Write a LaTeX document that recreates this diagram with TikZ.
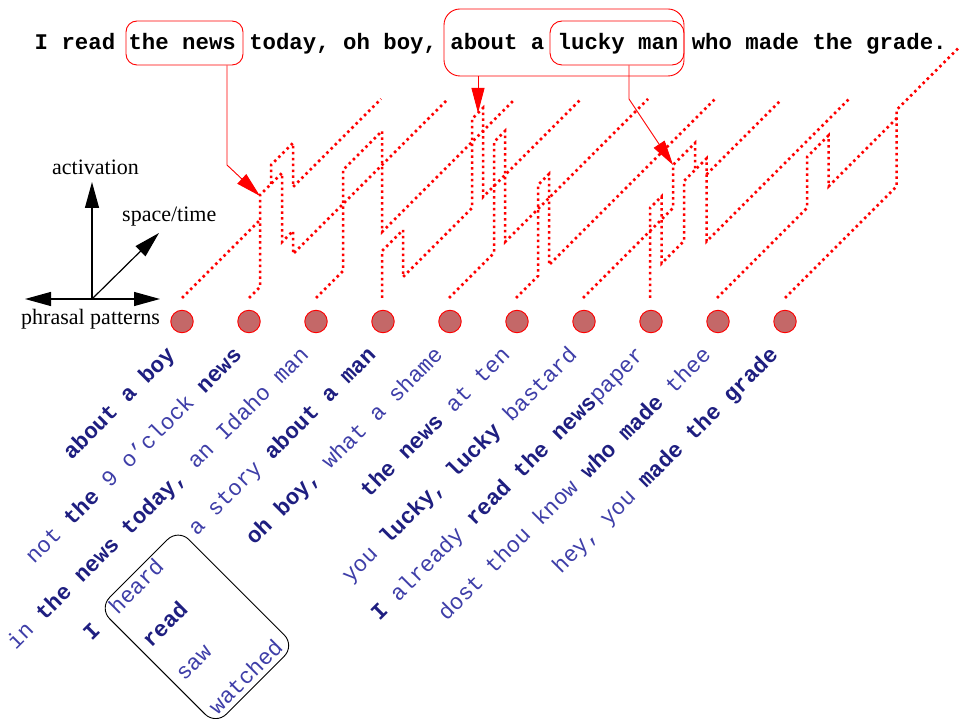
\documentclass[tikz,border=0pt]{standalone}
\usepackage{fontspec}
\setmainfont{Liberation Serif}
\newfontfamily\mono{Liberation Mono}
\usetikzlibrary{arrows.meta}
\definecolor{phr}{RGB}{62,62,168}
\definecolor{phrb}{RGB}{30,30,128}
\definecolor{circfill}{RGB}{196,104,104}
\newcommand\sz{\fontsize{22.35}{26}\selectfont}
\newcommand\bd[1]{{\bfseries\color{phrb}#1}}
\begin{document}
\begin{tikzpicture}[x=1pt,y=-1pt,
  trace/.style={red, line width=2.5pt, dash pattern=on 2.5pt off 3.4pt},
  conn/.style={red, line width=0.9pt, -{Triangle[length=25pt,width=13pt]}},
  wbox/.style={draw=red, line width=0.9pt, inner sep=0pt},
  axis/.style={black, line width=1.2pt},
  lbl/.style={font=\fontsize{22}{26}\selectfont, inner sep=0pt, anchor=base west},
  pat/.style={circle, draw=red, fill=circfill, minimum size=22.5pt, inner sep=0pt, line width=0.9pt},
  phrase/.style={anchor=base east, inner sep=0pt, text=phr, font=\mono\sz},
  stackw/.style={anchor=base west, inner sep=0pt, text=phr, font=\mono\sz}]
\useasboundingbox (0,0) rectangle (959,719);

% sentence and its boxes
\node[anchor=base west, inner sep=0pt, font=\mono\bfseries\sz] (sent) at (34.5,50)
  {I read the news today, oh boy, about a lucky man who made the grade.};
\node[wbox, rounded corners=11pt, minimum width=117pt, minimum height=44pt] (newsbox) at (184.5,43) {};
\node[wbox, rounded corners=16pt, minimum width=240pt, minimum height=67pt] (bigbox) at (564,42.5) {};
\node[wbox, rounded corners=12pt, minimum width=134pt, minimum height=44pt] (luckybox) at (617,43) {};

% axes
\coordinate (O) at (92,299);
\coordinate (actTip) at (92,182);
\coordinate (stTip) at (159,233);
\coordinate (ppL) at (25,299);
\coordinate (ppR) at (160,299);
\draw[axis, -{Triangle[length=26pt,width=14pt]}] (O) -- (actTip);
\draw[axis, -{Triangle[length=26pt,width=14pt]}] (O) -- (stTip);
\draw[axis, {Triangle[length=26pt,width=14pt]}-{Triangle[length=26pt,width=14pt]}] (ppL) -- (ppR);
\node[lbl] (lact) at (52,175) {activation};
\node[lbl] (lst) at (122,222) {space/time};
\node[lbl] (lpp) at (21,325) {phrasal patterns};

% pattern circles
\foreach \i in {0,...,9} \node[pat] (p\i) at ({182+67*\i},321.5) {};

% activation traces
\draw[trace] (182,298) -- (260,220);
\draw[trace] (271,184) -- (271,165) -- (293,143) -- (293,187) -- (381,99);
\draw[trace] (249,298) -- (260,287) -- (260,195) -- (282,173) -- (282,242) -- (293,231) -- (293,254) -- (448,99);
\draw[trace] (316,298) -- (343,271) -- (343,170) -- (382,131) -- (382,232) -- (515,99);
\draw[trace] (382,298) -- (382,251) -- (403,230) -- (403,277) -- (472,208) -- (472,119) -- (483,108) -- (483,197) -- (581,99);
\draw[trace] (449,298) -- (494,253) -- (494,142) -- (505,131) -- (505,242) -- (648,99);
\draw[trace] (516,298) -- (538,276) -- (538,185) -- (549,174) -- (549,265) -- (715,99);
\draw[trace] (583,298) -- (673,208) -- (673,165) -- (695,143) -- (695,170);
\draw[trace] (706.5,174.5) -- (781,100);
\draw[trace] (650,298) -- (650,208) -- (661.5,196.5) -- (661.5,263.5) -- (684,241) -- (684,181) -- (706.5,158.5) -- (706.5,241.5) -- (849,99);
\draw[trace] (717,298) -- (807,208) -- (807,157) -- (828.5,135.5) -- (828.5,186.5) -- (897,118);
\draw[trace] (785,298) -- (896.5,186.5) -- (896.5,110) -- (970,36.5);

% connectors from the sentence
\coordinate (bendA) at (227,165);
\coordinate (tipA) at (260,196);
\coordinate (tipB) at (478,113);
\coordinate (bendC) at (629,99);
\coordinate (tipC) at (673,165);
\draw[conn] (newsbox.south -| bendA) -- (bendA) -- (tipA);
\draw[conn] (bigbox.south -| tipB) -- (tipB);
\draw[conn] (luckybox.south -| bendC) -- (bendC) -- (tipC);

% rotated phrasal patterns
\begin{scope}[rotate=45, transform shape]
\node[phrase] (ph1) at (-127.3,376.2) {\bd{about a boy}};
\node[phrase] (ph2) at (-79.9,423.6) {not \bd{the} 9 o’clock \bd{news}};
\node[phrase] (ph3) at (-32.5,471.0) {in \bd{the news today,} an Idaho man};
\node[phrase] (ph4) at (14.9,518.4) {a story \bd{about a man}};
\node[stackw] (ph4i) at (-388.5,518.4) {\bd{I}};
\node[stackw] (w1) at (-352,518.4) {heard};
\node[stackw] (w2) at (-352,565.5) {\bd{read}};
\node[stackw] (w3) at (-352,612.6) {saw};
\node[stackw] (w4) at (-352,659.7) {watched};
\node[draw=black, line width=0.9pt, rounded corners=15pt, minimum width=112pt, minimum height=165pt, inner sep=0pt] (stackbox) at (-304,582.5) {};
\node[phrase] (ph5) at (62.3,565.8) {\bd{oh boy,} what a shame};
\node[phrase] (ph6) at (109.7,613.2) {\bd{the news} at ten};
\node[phrase] (ph7) at (157.1,660.6) {you \bd{lucky, lucky} bastard};
\node[phrase] (ph8) at (204.5,708.0) {\bd{I} already \bd{read the news}paper};
\node[phrase] (ph9) at (251.9,755.4) {dost thou know \bd{who made} thee};
\node[phrase] (ph10) at (299.3,802.8) {hey, you \bd{made the grade}};
\end{scope}
\end{tikzpicture}
\end{document}
